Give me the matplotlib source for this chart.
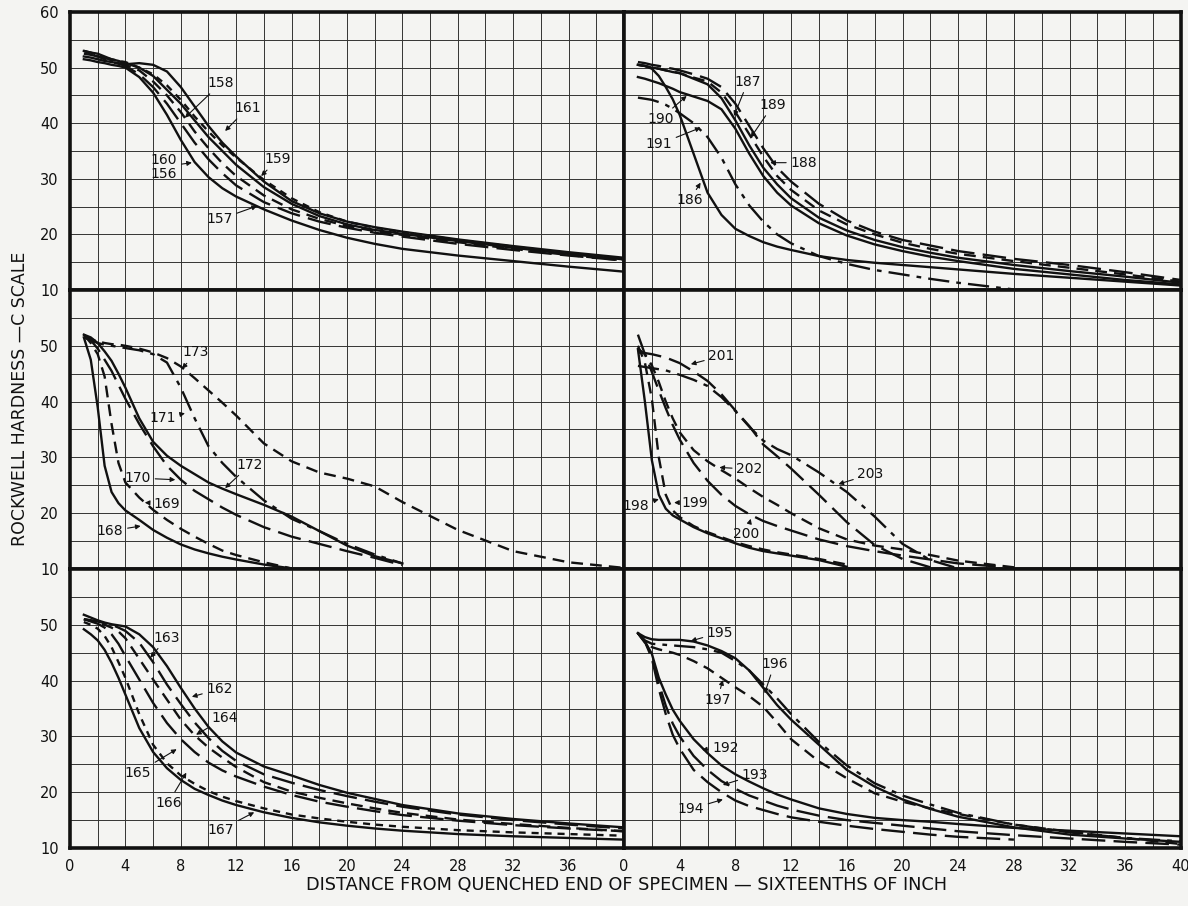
import matplotlib.pyplot as plt

nan = float('nan')

# distance from quenched end, sixteenths of inch (common to all curves)
pos = [1, 1.5, 2, 2.5, 3, 3.5, 4, 5, 6, 7, 8, 9, 10, 11, 12, 14, 16, 18, 20, 22, 24, 28, 32, 36, 40]

# --- top left: 156-161
h156 = [51.5, 51.3, 51.0, 50.8, 50.5, 50.3, 50.0, 48.3, 45.5, 41.5, 37.0, 33.0, 30.3, 28.3, 26.8, 24.5, 22.5, 20.8, 19.4, 18.3, 17.4, 16.2, 15.2, 14.2, 13.3]
h157 = [52.5, 52.3, 52.0, 51.5, 51.0, 50.7, 50.3, 48.8, 46.5, 43.5, 40.0, 36.5, 33.5, 31.0, 28.8, 25.8, 23.8, 22.3, 21.2, 20.3, 19.6, 18.3, 17.2, 16.2, 15.3]
h158 = [52.0, 51.8, 51.5, 51.2, 51.0, 50.8, 50.6, 50.8, 50.5, 49.3, 46.5, 43.0, 39.5, 36.5, 34.0, 29.5, 26.0, 23.8, 22.3, 21.3, 20.5, 19.1, 17.9, 16.8, 15.8]
h159 = [53.0, 52.7, 52.5, 52.0, 51.5, 51.2, 50.8, 50.0, 48.5, 46.0, 43.5, 40.5, 37.5, 35.0, 32.5, 28.5, 25.5, 23.3, 21.8, 20.8, 20.1, 18.8, 17.6, 16.5, 15.5]
h160 = [53.0, 52.7, 52.3, 51.8, 51.3, 51.0, 50.5, 49.5, 47.5, 45.0, 42.0, 38.5, 35.5, 32.8, 30.5, 27.0, 24.5, 22.8, 21.5, 20.6, 19.9, 18.6, 17.4, 16.3, 15.3]
h161 = [53.0, 52.5, 52.0, 51.8, 51.5, 51.2, 51.0, 50.0, 48.8, 46.8, 44.2, 41.2, 38.5, 36.0, 33.8, 29.8, 26.5, 24.0, 22.3, 21.2, 20.4, 19.0, 17.8, 16.6, 15.5]

# --- top right: 186-191
h186 = [50.5, 50.3, 49.8, 48.5, 46.5, 44.3, 41.5, 34.5, 27.5, 23.5, 21.0, 19.7, 18.6, 17.8, 17.2, 16.1, 15.4, 14.9, 14.5, 14.1, 13.7, 12.9, 12.2, 11.5, 10.8]
h187 = [50.5, 50.3, 50.0, 49.8, 49.5, 49.2, 49.0, 48.0, 47.0, 44.5, 40.5, 36.0, 32.0, 29.0, 26.5, 23.0, 20.7, 19.0, 17.7, 16.7, 15.8, 14.5, 13.4, 12.4, 11.3]
h188 = [51.0, 50.8, 50.5, 50.3, 50.0, 49.8, 49.5, 48.8, 48.0, 46.5, 43.5, 39.5, 35.5, 32.0, 29.5, 25.5, 22.5, 20.5, 19.0, 18.0, 17.0, 15.6, 14.5, 13.2, 11.8]
h189 = [50.5, 50.3, 50.0, 49.8, 49.5, 49.3, 49.0, 48.2, 47.5, 45.5, 42.0, 38.0, 34.0, 30.5, 28.0, 24.3, 21.8, 20.0, 18.5, 17.4, 16.5, 15.2, 14.0, 12.8, 11.5]
h190 = [48.3, 48.0, 47.6, 47.2, 46.7, 46.2, 45.6, 44.8, 44.0, 42.5, 39.0, 34.5, 30.5, 27.5, 25.2, 22.0, 19.8, 18.2, 17.0, 16.0, 15.2, 13.8, 12.8, 11.8, 11.0]
h191 = [44.6, 44.4, 44.2, 43.8, 43.3, 42.6, 41.8, 40.0, 37.5, 33.8, 29.0, 25.2, 22.3, 20.0, 18.4, 16.1, 14.7, 13.6, 12.8, 12.0, 11.3, 10.1, nan, nan, nan]

# --- middle left: 168-173
h168 = [51.5, 47.5, 39.0, 28.5, 23.8, 21.8, 20.5, 18.8, 17.0, 15.6, 14.4, 13.5, 12.8, 12.2, 11.7, 10.8, 10.1, nan, nan, nan, nan, nan, nan, nan, nan]
h169 = [52.0, 50.5, 48.5, 44.5, 36.0, 29.0, 25.5, 22.8, 20.6, 18.8, 17.2, 15.8, 14.5, 13.3, 12.5, 11.2, 10.1, nan, nan, nan, nan, nan, nan, nan, nan]
h170 = [52.0, 51.0, 49.5, 47.5, 45.5, 43.0, 40.5, 36.0, 32.0, 28.5, 26.0, 24.0, 22.5, 21.0, 19.7, 17.5, 15.8, 14.5, 13.2, 12.0, 10.7, nan, nan, nan, nan]
h171 = [51.5, 51.0, 50.5, 50.2, 50.0, 49.8, 49.6, 49.2, 48.5, 47.0, 42.5, 37.0, 32.0, 29.0, 26.5, 22.3, 19.0, 16.8, 14.5, 12.6, 11.0, nan, nan, nan, nan]
h172 = [52.0, 51.5, 50.5, 49.0, 47.3, 45.0, 42.5, 37.0, 32.8, 30.3, 28.5, 27.0, 25.5, 24.4, 23.4, 21.5, 19.4, 16.8, 14.2, 12.3, 11.0, nan, nan, nan, nan]
h173 = [51.5, 51.2, 50.8, 50.5, 50.3, 50.2, 50.0, 49.5, 48.8, 47.8, 46.3, 44.2, 42.0, 39.8, 37.5, 32.5, 29.3, 27.3, 26.2, 24.8, 22.0, 17.0, 13.2, 11.2, 10.2]

# --- middle right: 198-203
h198 = [49.4, 40.0, 29.5, 23.3, 20.8, 19.6, 18.9, 17.5, 16.4, 15.5, 14.6, 13.8, 13.2, 12.8, 12.4, 11.6, 10.4, nan, nan, nan, nan, nan, nan, nan, nan]
h199 = [50.0, 47.0, 40.5, 30.0, 23.3, 20.5, 19.3, 17.7, 16.6, 15.7, 14.8, 14.1, 13.5, 13.0, 12.6, 11.8, 10.8, nan, nan, nan, nan, nan, nan, nan, nan]
h200 = [52.0, 48.5, 45.3, 42.0, 38.8, 35.8, 33.2, 29.0, 25.8, 23.3, 21.3, 19.8, 18.6, 17.7, 16.9, 15.3, 14.1, 13.2, 12.4, 11.7, 11.0, 10.2, nan, nan, nan]
h201 = [48.8, 48.7, 48.5, 48.2, 47.9, 47.4, 46.9, 45.4, 43.7, 41.3, 38.4, 35.6, 32.3, 30.2, 28.0, 23.3, 18.4, 14.3, 11.8, 10.3, nan, nan, nan, nan, nan]
h202 = [49.5, 48.5, 46.5, 43.5, 40.0, 37.0, 34.5, 31.3, 29.3, 27.7, 26.2, 24.5, 22.9, 21.5, 20.0, 17.3, 15.3, 14.2, 13.5, 12.5, 11.5, 10.3, nan, nan, nan]
h203 = [46.4, 46.2, 46.0, 45.8, 45.6, 45.2, 44.8, 43.9, 42.8, 40.8, 38.3, 35.5, 33.0, 31.5, 30.4, 27.3, 23.8, 19.4, 14.5, 11.6, 10.1, nan, nan, nan, nan]

# --- bottom left: 162-167
h162 = [51.8, 51.3, 50.8, 50.4, 50.1, 49.9, 49.7, 48.3, 46.0, 42.6, 38.7, 35.0, 31.7, 29.1, 27.1, 24.6, 23.0, 21.3, 19.9, 18.8, 17.7, 16.2, 15.2, 14.4, 13.7]
h163 = [51.0, 50.8, 50.6, 50.3, 50.0, 49.5, 48.9, 46.8, 43.3, 39.3, 35.8, 32.5, 29.7, 27.4, 25.6, 23.2, 21.7, 20.4, 19.3, 18.3, 17.4, 16.0, 15.0, 14.2, 13.5]
h164 = [51.0, 50.8, 50.5, 50.0, 49.5, 48.8, 47.6, 43.9, 40.2, 36.6, 33.0, 30.2, 28.0, 26.2, 24.5, 21.8, 20.1, 19.0, 18.0, 17.1, 16.3, 15.1, 14.3, 13.6, 13.0]
h165 = [51.0, 50.6, 50.2, 49.5, 48.3, 46.6, 44.4, 40.2, 36.0, 32.4, 29.5, 27.2, 25.3, 23.9, 22.8, 21.0, 19.5, 18.3, 17.4, 16.6, 15.9, 14.9, 14.1, 13.5, 13.0]
h166 = [49.2, 48.3, 47.2, 45.5, 43.2, 40.5, 37.5, 31.5, 27.2, 24.3, 22.2, 20.6, 19.5, 18.5, 17.7, 16.4, 15.4, 14.6, 14.0, 13.5, 13.1, 12.5, 12.1, 11.8, 11.5]
h167 = [50.5, 50.0, 49.3, 48.0, 46.0, 43.3, 40.5, 34.0, 28.5, 25.2, 23.0, 21.5, 20.2, 19.2, 18.4, 17.1, 16.0, 15.3, 14.7, 14.2, 13.8, 13.2, 12.8, 12.5, 12.2]

# --- bottom right: 192-197
h192 = [48.5, 47.0, 44.8, 40.5, 37.5, 34.8, 32.8, 29.5, 27.0, 24.8, 23.2, 21.9, 20.7, 19.6, 18.7, 17.1, 16.1, 15.4, 15.0, 14.7, 14.3, 13.6, 13.1, 12.6, 12.1]
h193 = [48.5, 47.0, 44.5, 39.5, 35.5, 32.3, 30.0, 26.5, 24.0, 22.0, 20.6, 19.4, 18.5, 17.6, 16.9, 15.8, 15.0, 14.5, 14.0, 13.5, 13.0, 12.3, 11.7, 11.1, 10.6]
h194 = [48.5, 47.0, 44.0, 38.5, 34.0, 30.3, 27.8, 24.0, 21.8, 20.0, 18.5, 17.5, 16.8, 16.1, 15.5, 14.7, 14.0, 13.4, 12.9, 12.4, 12.0, 11.5, nan, nan, nan]
h195 = [48.5, 47.8, 47.4, 47.3, 47.3, 47.3, 47.3, 47.0, 46.3, 45.3, 44.0, 41.8, 38.7, 35.6, 33.0, 28.5, 24.0, 21.0, 18.7, 17.0, 15.6, 13.7, 12.4, 11.7, 11.1]
h196 = [48.5, 47.2, 46.6, 46.5, 46.4, 46.3, 46.2, 46.0, 45.6, 45.0, 43.5, 41.8, 39.3, 36.8, 34.0, 29.0, 24.8, 21.6, 19.4, 17.8, 16.3, 14.2, 12.8, 11.8, 11.2]
h197 = [48.5, 46.8, 46.0, 45.6, 45.3, 45.0, 44.6, 43.5, 42.2, 40.5, 38.8, 37.2, 35.3, 32.5, 29.5, 25.5, 22.5, 19.8, 18.3, 17.1, 16.1, 14.2, 12.9, 11.8, 10.7]

# line styles
SOLID = '-'
DASH = (0, (5, 3))
LONG = (0, (10, 3.5))
SHORT = (0, (3, 2.5))
DDOT = (0, (9, 3, 2, 3))

# panels: (row, col, curves, labels[(text, text pos, arrow tip)])
panels = [
    (0, 0,
     [(h156, SOLID), (h157, LONG), (h158, SOLID), (h159, SOLID), (h160, DASH), (h161, SHORT)],
     [('158', (10.9, 47.2), (8.3, 41.0)), ('161', (12.8, 42.7), (11.2, 38.6)),
      ('160\n156', (6.8, 32.2), (8.8, 32.9)), ('159', (15.0, 33.5), (13.8, 30.5)),
      ('157', (10.8, 22.7), (13.5, 25.1))]),
    (0, 1,
     [(h186, SOLID), (h187, SOLID), (h188, LONG), (h189, DASH), (h190, SOLID), (h191, DDOT)],
     [('187', (8.9, 47.5), (7.9, 41.3)), ('189', (10.7, 43.3), (9.1, 37.4)),
      ('188', (12.9, 32.9), (10.5, 32.9)), ('190', (2.6, 40.8), (4.5, 44.9)),
      ('191', (2.5, 36.2), (5.5, 39.2)), ('186', (4.7, 26.1), (5.5, 29.3))]),
    (1, 0,
     [(h168, SOLID), (h169, DASH), (h170, LONG), (h171, DDOT), (h172, SOLID), (h173, DASH)],
     [('173', (9.1, 48.8), (8.1, 45.9)), ('171', (6.7, 37.0), (8.3, 37.9)),
      ('172', (13.0, 28.7), (11.2, 24.5)), ('170', (4.9, 26.3), (7.6, 26.0)),
      ('169', (7.0, 21.7), (5.4, 21.9)), ('168', (2.9, 16.8), (5.1, 17.7))]),
    (1, 1,
     [(h198, SOLID), (h199, DASH), (h200, LONG), (h201, LONG), (h202, DASH), (h203, DDOT)],
     [('201', (7.0, 48.2), (4.8, 46.7)), ('202', (9.0, 27.9), (6.85, 28.2)),
      ('203', (17.7, 27.0), (15.4, 25.2)), ('198', (0.85, 21.3), (2.5, 22.5)),
      ('199', (5.05, 21.9), (3.6, 21.9)), ('200', (8.8, 16.3), (9.1, 19.0))]),
    (2, 0,
     [(h162, SOLID), (h163, LONG), (h164, DASH), (h165, LONG), (h166, SOLID), (h167, SHORT)],
     [('163', (7.0, 47.7), (5.8, 44.1)), ('162', (10.8, 38.5), (8.8, 37.1)),
      ('164', (11.2, 33.3), (9.1, 30.3)), ('165', (4.9, 23.5), (7.7, 27.7)),
      ('166', (7.1, 18.1), (8.4, 23.5)), ('167', (10.9, 13.3), (13.3, 16.4))]),
    (2, 1,
     [(h192, SOLID), (h193, LONG), (h194, LONG), (h195, SOLID), (h196, DDOT), (h197, DASH)],
     [('195', (6.9, 48.6), (4.8, 47.1)), ('196', (10.8, 43.0), (10.1, 37.7)),
      ('197', (6.7, 36.6), (7.1, 40.1)), ('192', (7.3, 28.0), (5.6, 27.6)),
      ('193', (9.4, 23.1), (7.1, 21.3)), ('194', (4.8, 17.0), (7.1, 18.7))]),
]

W, H = 1188, 906
col_edges = [(70, 624), (624, 1181)]
row_edges = [(12, 290), (290, 569), (569, 848)]
paper = '#f4f4f2'
ink = '#111111'

fig = plt.figure(figsize=(W / 100, H / 100), dpi=100, facecolor=paper)

for row, col, curves, labels in panels:
    x0, x1 = col_edges[col]
    y0, y1 = row_edges[row]
    ax = fig.add_axes([x0 / W, 1 - y1 / H, (x1 - x0) / W, (y1 - y0) / H])
    ax.set_facecolor(paper)
    ax.set_xlim(0, 40)
    ax.set_ylim(10, 60)

    xmaj = list(range(0, 41, 4)) if col == 1 else list(range(0, 37, 4))
    ax.set_xticks(xmaj)
    ax.set_xticks(range(2, 40, 4), minor=True)
    ymaj = [10, 20, 30, 40, 50, 60] if row == 0 else [10, 20, 30, 40, 50]
    ax.set_yticks(ymaj)
    ax.set_yticks([15, 25, 35, 45, 55], minor=True)
    ax.grid(which='both', color='#333333', lw=0.7)
    ax.set_axisbelow(True)
    ax.tick_params(which='both', length=0, labelsize=10.5, colors=ink)
    ax.tick_params(axis='y', pad=8)
    ax.tick_params(axis='x', pad=8)
    if col == 1:
        ax.set_yticklabels([])
    if row < 2:
        ax.set_xticklabels([])
    for s in ax.spines.values():
        s.set_linewidth(2.6)
        s.set_color(ink)

    for vals, ls in curves:
        ax.plot(pos, vals, color=ink, lw=1.7, linestyle=ls, zorder=3)

    for txt, tpos, tip in labels:
        ax.annotate(txt, xy=tip, xytext=tpos, ha='center', va='center',
                    fontsize=10, color=ink, linespacing=1.0, zorder=4,
                    arrowprops=dict(arrowstyle='-|>', color=ink, lw=0.8,
                                    mutation_scale=7, shrinkA=1, shrinkB=0))

fig.text(20 / W, 1 - 399 / H, 'ROCKWELL HARDNESS \u2014C SCALE', rotation=90,
         ha='center', va='center', fontsize=12.5, color=ink)
fig.text(626 / W, 1 - 885 / H,
         'DISTANCE FROM QUENCHED END OF SPECIMEN \u2014 SIXTEENTHS OF INCH',
         ha='center', va='center', fontsize=12.8, color=ink)

fig.savefig('out.png', dpi=100, facecolor=paper)
